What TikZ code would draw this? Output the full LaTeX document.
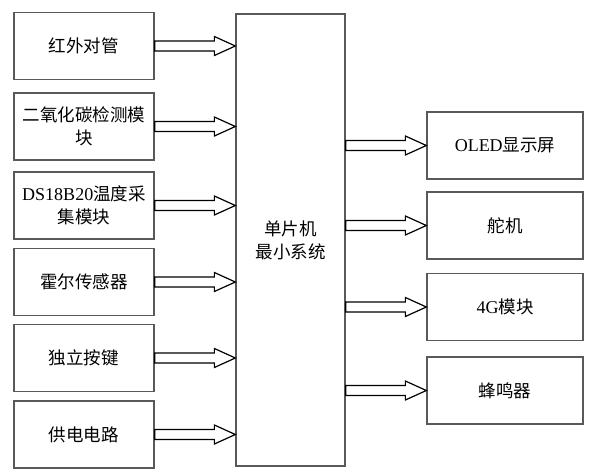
\documentclass[tikz,border=0pt]{standalone}
\usepackage{fontspec}
\newfontfamily\cjk{Noto Sans CJK SC}
\newfontfamily\lat{Liberation Serif}
\usetikzlibrary{calc}
\tikzset{
  box/.style={draw=black!65, line width=1.3pt, minimum width=140pt, minimum height=67pt, inner sep=0pt, align=center, font=\cjk\fontsize{17.5}{23}\selectfont, text width=138pt},
  mcu/.style={draw=black!65, line width=1.3pt, minimum width=109pt, minimum height=452pt, inner sep=0pt, align=center, font=\cjk\fontsize{17.5}{23}\selectfont},
  blk/.style={draw=black, line width=1.2pt, fill=white}
}
\newcommand{\blockarrow}[2]{%
  \draw[blk] let \p1=(#1), \p2=(#2) in
    (\x1,\y1+5pt) -- (\x2-21pt,\y1+5pt) -- (\x2-21pt,\y1+9.5pt) -- (\x2,\y1)
    -- (\x2-21pt,\y1-9.5pt) -- (\x2-21pt,\y1-5pt) -- (\x1,\y1-5pt) -- cycle;}
\begin{document}
\begin{tikzpicture}[x=1pt,y=-1pt]
\useasboundingbox (0,0) rectangle (590,472);
\node[mcu] (m) at (290.5,240) {单片机\\最小系统};
\node[box] (a1) at (84,46) {红外对管};
\node[box] (a2) at (84,126.5) {二氧化碳检测模\\块};
\node[box] (a3) at (84,205.5) {{\lat\fontsize{18}{23}\selectfont DS18B20}温度采\\集模块};
\node[box] (a4) at (84,282) {霍尔传感器};
\node[box] (a5) at (84,358) {独立按键};
\node[box] (a6) at (84,434.5) {供电电路};
\node[box, minimum width=156pt, text width=150pt] (b1) at (505,145.5) {{\lat\fontsize{18}{23}\selectfont OLED}显示屏};
\node[box, minimum width=156pt, text width=150pt] (b2) at (505,225.5) {舵机};
\node[box, minimum width=156pt, text width=150pt] (b3) at (505,307) {{\lat\fontsize{18}{23}\selectfont 4G}模块};
\node[box, minimum width=156pt, text width=150pt] (b4) at (505,390.5) {蜂鸣器};
\foreach \i in {1,...,6} {\blockarrow{a\i.east}{a\i.east -| m.west}}
\foreach \i in {1,...,4} {\blockarrow{b\i.west -| m.east}{b\i.west}}
\end{tikzpicture}
\end{document}
